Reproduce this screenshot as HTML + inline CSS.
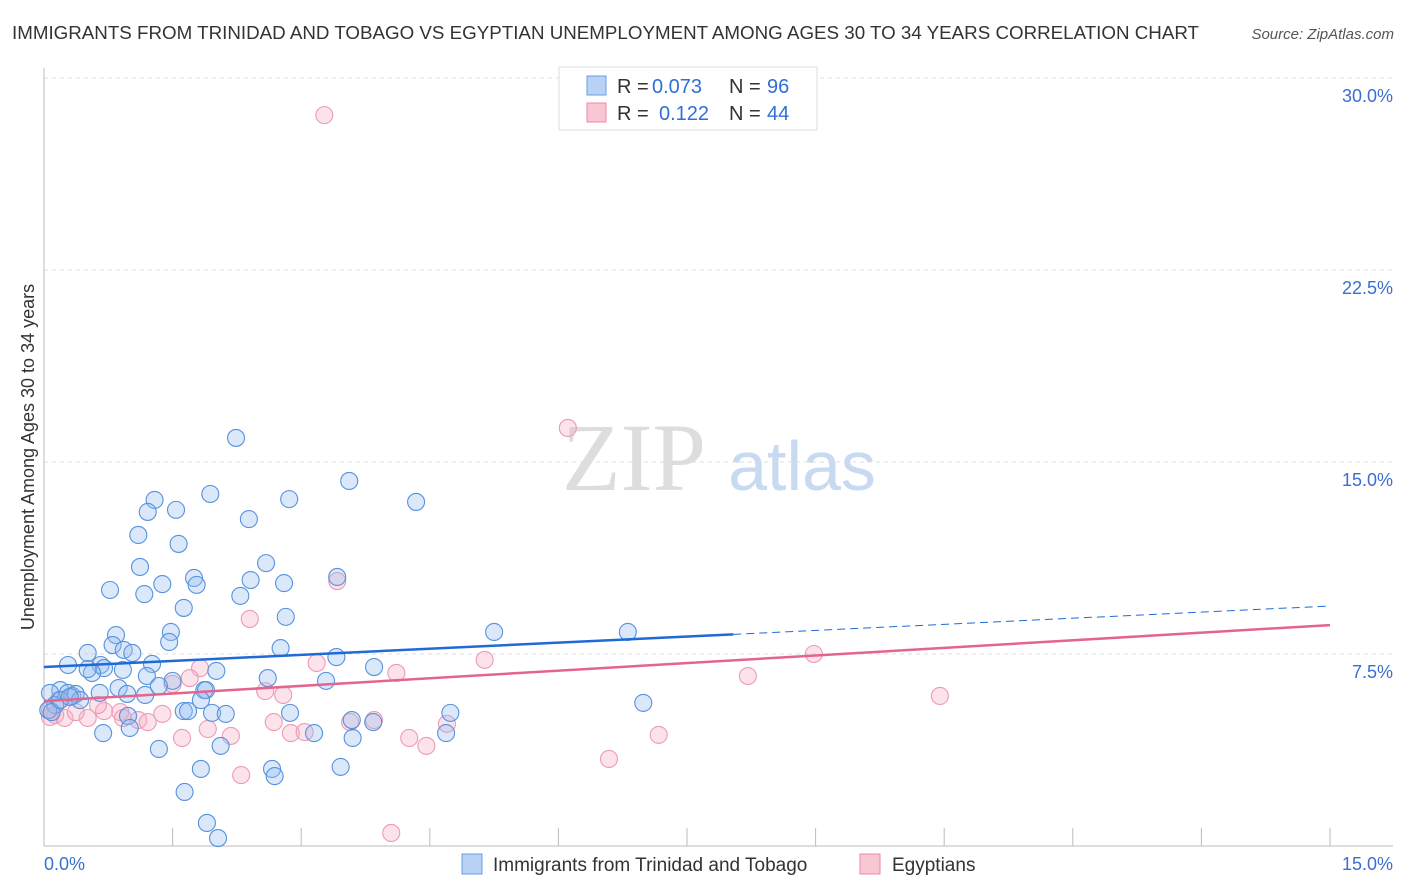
<!DOCTYPE html>
<html><head><meta charset="utf-8"><style>
body{margin:0;background:#fff;font-family:"Liberation Sans",sans-serif}
svg{display:block}
</style></head><body>
<svg id="c" width="1406" height="892">
<text x="12" y="39" font-size="18" fill="#333" textLength="1187" lengthAdjust="spacingAndGlyphs">IMMIGRANTS FROM TRINIDAD AND TOBAGO VS EGYPTIAN UNEMPLOYMENT AMONG AGES 30 TO 34 YEARS CORRELATION CHART</text>
<text x="1394" y="39" font-size="15" fill="#555" font-style="italic" text-anchor="end">Source: ZipAtlas.com</text>
<text transform="translate(34,457) rotate(-90)" font-size="18" fill="#333" text-anchor="middle">Unemployment Among Ages 30 to 34 years</text>
<text x="634" y="490" font-size="96" fill="#ddd" font-family="Liberation Serif" text-anchor="middle">ZIP</text>
<text x="802" y="490" font-size="70" fill="#c8d9f2" text-anchor="middle">atlas</text>
<g id="grid"></g><g id="pts"></g><g id="lines"></g>
<g>
<rect x="559" y="67" width="258" height="63" fill="#fff" stroke="#ddd"/>
<rect x="587" y="76" width="19" height="19" fill="#b8d2f5" stroke="#6a9ee0"/>
<text x="617" y="93" font-size="20" fill="#333">R =</text>
<text x="652" y="93" font-size="20" fill="#2f6fd6">0.073</text>
<text x="729" y="93" font-size="20" fill="#333">N =</text>
<text x="767" y="93" font-size="20" fill="#2f6fd6">96</text>
<rect x="587" y="103" width="19" height="19" fill="#f9c6d4" stroke="#e88aa8"/>
<text x="617" y="120" font-size="20" fill="#333">R =</text>
<text x="659" y="120" font-size="20" fill="#2f6fd6">0.122</text>
<text x="729" y="120" font-size="20" fill="#333">N =</text>
<text x="767" y="120" font-size="20" fill="#2f6fd6">44</text>
</g>
<g>
<rect x="462" y="854" width="20" height="20" fill="#b8d2f5" stroke="#6a9ee0"/>
<text x="493" y="871" font-size="19" fill="#333">Immigrants from Trinidad and Tobago</text>
<rect x="860" y="854" width="20" height="20" fill="#f9c6d4" stroke="#e88aa8"/>
<text x="892" y="871" font-size="19" fill="#333">Egyptians</text>
</g>
</svg>
<script>
const blueX=[2.24,1.94,1.29,1.21,1.54,2.39,2.86,3.56,4.34,1.10,1.57,2.59,1.12,0.77,1.38,1.17,1.75,1.78,2.41,2.29,2.80,1.63,2.82,3.42,1.48,0.84,1.46,0.80,0.93,1.03,2.76,5.25,6.81,0.51,0.28,0.66,0.70,0.56,0.51,0.92,1.26,3.41,3.85,2.01,1.20,1.50,1.87,2.61,3.29,0.87,0.65,0.97,1.18,1.34,1.89,1.83,0.19,0.07,0.28,0.33,0.37,0.42,0.13,0.05,0.09,1.63,1.68,1.96,2.12,2.87,3.59,3.84,4.74,6.99,0.98,1.00,0.69,3.15,3.60,4.69,1.34,2.06,1.83,2.66,2.69,3.46,1.64,1.90,2.03,0.19,0.30];
const blueY=[15.94,13.75,13.52,13.05,13.13,12.77,13.55,14.26,13.44,12.15,11.80,11.05,10.90,10.00,10.23,9.84,10.47,10.20,10.39,9.77,10.27,9.30,8.95,10.51,8.36,8.24,7.97,7.85,7.66,7.54,7.73,8.36,8.36,7.54,7.07,7.07,6.95,6.76,6.91,6.88,7.11,7.38,6.99,6.84,6.64,6.45,6.09,6.56,6.45,6.17,5.98,5.94,5.90,6.25,6.09,5.70,6.09,5.98,5.98,5.86,5.94,5.70,5.51,5.31,5.23,5.27,5.27,5.20,5.16,5.20,4.92,4.84,5.20,5.59,5.08,4.61,4.41,4.41,4.22,4.41,3.79,3.91,3.01,3.01,2.73,3.09,2.11,0.90,0.31,5.70,5.82];
const pinkX=[3.27,6.11,3.42,2.40,1.82,1.70,1.50,3.18,4.11,5.14,8.98,8.21,10.45,2.58,2.79,0.07,0.13,0.24,0.51,0.70,0.89,1.10,1.21,1.38,1.61,1.91,2.18,2.68,2.88,3.04,3.57,3.85,4.26,4.46,4.70,2.30,6.59,7.17,4.05,0.92,0.63,0.17,0.07,0.37];
const pinkY=[28.55,16.33,10.35,8.87,6.95,6.56,6.33,7.15,6.76,7.27,7.50,6.64,5.86,6.05,5.90,5.31,5.12,5.00,5.00,5.27,5.23,4.92,4.84,5.16,4.22,4.57,4.30,4.84,4.41,4.45,4.84,4.92,4.22,3.91,4.77,2.77,3.40,4.34,0.51,5.00,5.51,5.70,5.04,5.23];
const blueTrend=[6.99,9.375]; const blueSolidEnd=8.04;
const pinkTrend=[5.66,8.63];
const yTicks=[7.5,15,22.5,30];
const xTickLabels=["0.0%","15.0%"];
const NS="http://www.w3.org/2000/svg";
const X0=44,X1=1330,Y0=846,YPER=192/7.5;
const sx=v=>X0+(v/15)*(X1-X0), sy=v=>Y0-v*YPER;
function mk(t,a,p){const e=document.createElementNS(NS,t);for(const k in a)e.setAttribute(k,a[k]);p.appendChild(e);return e;}
const grid=document.getElementById('grid');
yTicks.forEach(v=>{
 const l=mk('line',{x1:X0,x2:1393,y1:sy(v),y2:sy(v),stroke:'#ddd','stroke-dasharray':'4,4'},grid);
 
 
 const t=mk('text',{x:1393,y:sy(v)+24,'font-size':18,fill:'#3a6fd0','text-anchor':'end'},grid);
 t.textContent=v.toFixed(1)+'%';
 
 
});
const ax=mk('line',{x1:X0,x2:X0,y1:68,y2:Y0,stroke:'#bbb'},grid);


const bx=mk('line',{x1:X0,x2:1393,y1:Y0,y2:Y0,stroke:'#bbb'},grid);


for(let i=1;i<=10;i++){const t=mk('line',{x1:sx(i*1.5),x2:sx(i*1.5),y1:Y0-18,y2:Y0,stroke:'#bbb'},grid);
 
 }
[[0,'start'],[15,'end']].forEach((d,i)=>{const t=mk('text',{x:i?1393:44,y:870,'font-size':18,fill:'#3a6fd0','text-anchor':d[1]},grid);t.textContent=xTickLabels[i];
 
 });
const pts=document.getElementById('pts');
pinkX.forEach((x,i)=>{const c=mk('circle',{cx:sx(x),cy:sy(pinkY[i]),r:8.5,fill:'rgba(246,175,198,0.35)',stroke:'#ee9ab5','stroke-width':1.1},pts);
 
 });
blueX.forEach((x,i)=>{const c=mk('circle',{cx:sx(x),cy:sy(blueY[i]),r:8.5,fill:'rgba(150,190,240,0.35)',stroke:'#5592de','stroke-width':1.1},pts);
 
 });
const ln=document.getElementById('lines');
const by=x=>blueTrend[0]+(blueTrend[1]-blueTrend[0])*x/15;
let l1=mk('line',{x1:sx(0),y1:sy(by(0)),x2:sx(blueSolidEnd),y2:sy(by(blueSolidEnd)),stroke:'#1f6ad6','stroke-width':2.5},ln);


let l2=mk('line',{x1:sx(blueSolidEnd),y1:sy(by(blueSolidEnd)),x2:sx(15),y2:sy(by(15)),stroke:'#1f6ad6','stroke-width':1,'stroke-dasharray':'8,5'},ln);


let l3=mk('line',{x1:sx(0),y1:sy(pinkTrend[0]),x2:sx(15),y2:sy(pinkTrend[1]),stroke:'#e4648e','stroke-width':2.5},ln);


</script>
</body></html>
